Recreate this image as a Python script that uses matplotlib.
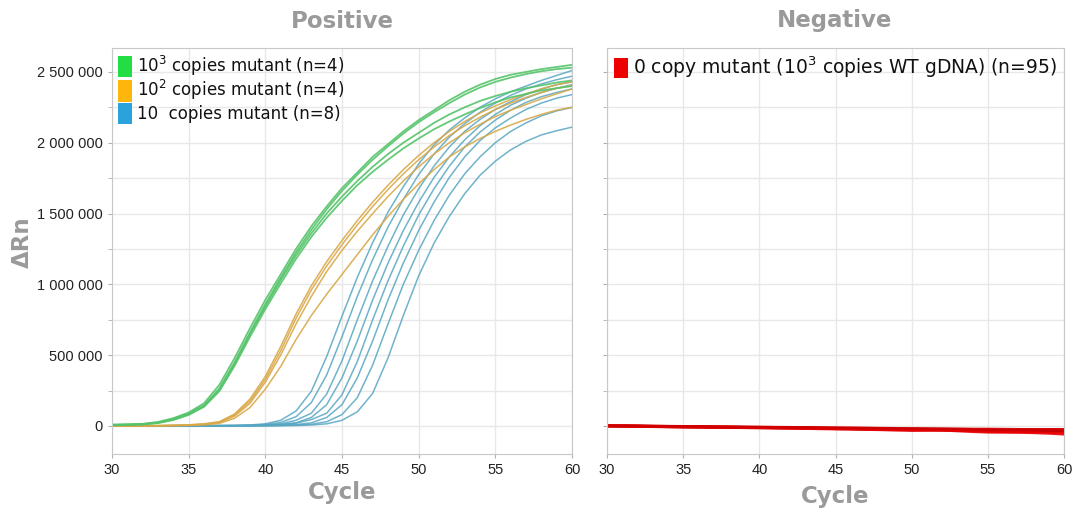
import matplotlib
matplotlib.use("Agg")
import matplotlib.pyplot as plt
from matplotlib.patches import Patch
from matplotlib.ticker import FuncFormatter, MultipleLocator
import numpy as np

cycles = list(range(30, 61))

# Delta Rn values (thousands) per cycle 30..60
green_k = [
    [10,12,15,28,55,95,160,290,480,690,890,1070,1250,1410,1550,1680,1790,1900,1990,2080,2160,2230,2300,2360,2410,2450,2480,2500,2520,2535,2550],
    [8,10,13,25,50,88,145,265,450,660,860,1045,1225,1385,1530,1660,1775,1880,1975,2065,2145,2215,2280,2340,2390,2430,2460,2485,2505,2520,2530],
    [5,8,12,22,45,82,140,255,440,650,845,1030,1205,1360,1500,1620,1730,1830,1920,2000,2070,2140,2200,2250,2295,2330,2360,2385,2405,2425,2440],
    [5,7,11,20,42,78,135,245,425,630,825,1005,1180,1335,1470,1590,1700,1795,1880,1960,2030,2095,2150,2200,2245,2285,2320,2345,2370,2385,2400],
]
orange_k = [
    [0,0,2,3,5,8,15,30,85,190,350,560,790,990,1160,1310,1450,1580,1700,1810,1910,2000,2080,2150,2210,2260,2305,2345,2380,2410,2430],
    [0,0,1,2,4,7,13,27,78,175,330,530,760,960,1130,1280,1420,1550,1670,1780,1880,1970,2050,2120,2180,2235,2280,2320,2355,2385,2405],
    [0,0,1,2,3,6,11,24,70,160,310,500,720,915,1090,1240,1375,1500,1620,1730,1830,1920,2000,2070,2130,2185,2230,2270,2310,2345,2380],
    [0,0,0,1,2,4,8,18,55,130,260,420,610,780,930,1070,1210,1350,1480,1600,1710,1810,1900,1970,2030,2080,2125,2165,2200,2230,2250],
]
blue_k = [
    [0,1,0,1,2,2,3,3,4,7,15,40,105,245,490,775,1050,1295,1510,1690,1850,1985,2090,2175,2250,2310,2360,2400,2440,2475,2510],
    [0,0,1,1,1,2,2,3,3,5,10,25,65,165,360,630,915,1175,1405,1600,1775,1920,2040,2135,2215,2280,2335,2380,2415,2445,2470],
    [0,0,0,1,1,1,2,2,3,4,7,15,40,90,225,460,750,1025,1270,1490,1675,1835,1970,2080,2165,2235,2290,2340,2380,2410,2430],
    [0,0,0,0,1,1,1,2,2,3,6,11,22,60,150,340,600,890,1150,1380,1580,1755,1900,2020,2120,2200,2265,2315,2355,2385,2410],
    [0,0,0,0,0,1,1,1,2,2,5,9,20,45,90,220,455,750,1025,1270,1490,1675,1835,1970,2075,2160,2230,2285,2325,2355,2380],
    [0,0,0,0,0,0,1,1,1,2,2,5,10,22,60,150,340,600,890,1150,1380,1580,1755,1900,2015,2105,2175,2235,2280,2315,2340],
    [0,0,0,0,0,0,0,1,1,1,2,3,6,12,30,80,200,430,720,1000,1240,1450,1630,1780,1900,2000,2080,2140,2190,2225,2250],
    [0,0,0,0,0,0,0,0,1,1,1,2,3,7,15,40,100,230,480,780,1060,1290,1480,1640,1770,1870,1950,2010,2055,2085,2110],
]
red_k = [
    [0,0,-1,-2,-3,-4,-5,-6,-7,-8,-9,-10,-10,-11,-12,-14,-15,-16,-18,-19,-20,-21,-22,-23,-24,-26,-28,-27,-26,-25,-25],
    [0,-1,-2,-4,-6,-7,-8,-9,-11,-12,-13,-14,-15,-16,-17,-19,-20,-22,-24,-25,-27,-28,-30,-32,-34,-36,-38,-38,-37,-36,-36],
    [2,1,0,-2,-3,-5,-6,-7,-8,-10,-11,-12,-13,-14,-16,-18,-19,-21,-22,-24,-26,-27,-28,-30,-33,-35,-37,-39,-41,-43,-45],
    [1,0,-1,-3,-5,-6,-7,-8,-9,-10,-11,-12,-14,-15,-17,-19,-20,-21,-22,-24,-27,-26,-24,-28,-31,-34,-32,-30,-30,-33,-35],
    [0,-1,-3,-5,-6,-8,-9,-10,-11,-12,-13,-15,-16,-18,-20,-22,-23,-25,-27,-30,-32,-31,-30,-35,-40,-44,-45,-46,-48,-52,-58],
    [1,0,0,-1,-2,-3,-4,-5,-6,-7,-8,-9,-10,-11,-12,-13,-14,-15,-16,-17,-18,-19,-20,-21,-22,-22,-23,-24,-25,-25,-26],
]

pos_labels = ["10$^3$ copies mutant (n=4)", "10$^2$ copies mutant (n=4)", "10  copies mutant (n=8)"]
neg_label = "0 copy mutant (10$^3$ copies WT gDNA) (n=95)"

plt.rcParams['font.family'] = ['DejaVu Sans']
plt.rcParams['mathtext.default'] = 'regular'

fig = plt.figure(figsize=(10.77, 5.15), dpi=100)
axL = fig.add_axes([112/1077, 1-454/515, 460/1077, 406/515])
axR = fig.add_axes([607/1077, 1-454/515, 457/1077, 406/515])

YLIM = (-198000, 2669000)
grid_c = '#e8e8e8'
spine_c = '#c8c8c8'
fmt = FuncFormatter(lambda v, p: f"{int(round(v)):,}".replace(',', ' '))

for ax in (axL, axR):
    ax.set_xlim(30, 60)
    ax.set_ylim(*YLIM)
    ax.xaxis.set_major_locator(MultipleLocator(5))
    ax.yaxis.set_major_locator(MultipleLocator(500000))
    ax.yaxis.set_minor_locator(MultipleLocator(250000))
    ax.grid(True, which='both', color=grid_c, lw=1.0)
    ax.set_axisbelow(True)
    for s in ax.spines.values():
        s.set_color(spine_c)
    ax.tick_params(axis='both', which='both', color='#b0b0b0', length=3,
                   labelsize=10.5, labelcolor='#222222')
    ax.yaxis.set_major_formatter(fmt)
    for lbl in ax.get_xticklabels() + ax.get_yticklabels():
        lbl.set_fontfamily('Liberation Sans')

axR.tick_params(axis='y', labelleft=False)

c_green = '#55c46a'
c_orange = '#d9a847'
c_blue = '#56a6c2'
for s in blue_k:
    axL.plot(cycles, np.array(s) * 1000, color=c_blue, lw=1.1, alpha=0.85)
for s in orange_k:
    axL.plot(cycles, np.array(s) * 1000, color=c_orange, lw=1.1, alpha=0.9)
for s in green_k:
    axL.plot(cycles, np.array(s) * 1000, color=c_green, lw=1.3, alpha=0.9)

red_cols = ['#e00000', '#c00000', '#f00000', '#b80000', '#e80000', '#d00000']
for s, c in zip(red_k, red_cols):
    axR.plot(cycles, np.array(s) * 1000, color=c, lw=2.0, alpha=0.9)

leg_handles = [Patch(facecolor='#22dd44', edgecolor='none'),
               Patch(facecolor='#ffb60a', edgecolor='none'),
               Patch(facecolor='#2aa3dc', edgecolor='none')]
lg = axL.legend(leg_handles, pos_labels, loc='upper left', frameon=False,
                fontsize=12, handlelength=0.85, handleheight=1.6,
                handletextpad=0.3, labelspacing=0.02, borderaxespad=0.15,
                borderpad=0.2)
for t in lg.get_texts():
    t.set_color('#111111')

lg2 = axR.legend([Patch(facecolor='#ee0000', edgecolor='none')], [neg_label],
                 loc='upper left', frameon=False, fontsize=13.5,
                 handlelength=0.75, handleheight=1.3, handletextpad=0.3,
                 borderaxespad=0.15, borderpad=0.2)
for t in lg2.get_texts():
    t.set_color('#111111')

title_c = '#9a9a9a'
fig.text(342/1077, 1-21/515, 'Positive', ha='center', va='center', fontsize=16.5,
         fontweight='bold', color=title_c)
fig.text(835/1077, 1-21/515, 'Negative', ha='center', va='center', fontsize=16.5,
         fontweight='bold', color=title_c)
fig.text(342/1077, 1-492/515, 'Cycle', ha='center', va='center', fontsize=16.5,
         fontweight='bold', color=title_c)
fig.text(835/1077, 1-497/515, 'Cycle', ha='center', va='center', fontsize=16.5,
         fontweight='bold', color=title_c)
fig.text(22/1077, 1-242/515, 'ΔRn', ha='center', va='center', fontsize=16.5,
         fontweight='bold', color=title_c, rotation=90)

fig.savefig('out.png', dpi=100)
